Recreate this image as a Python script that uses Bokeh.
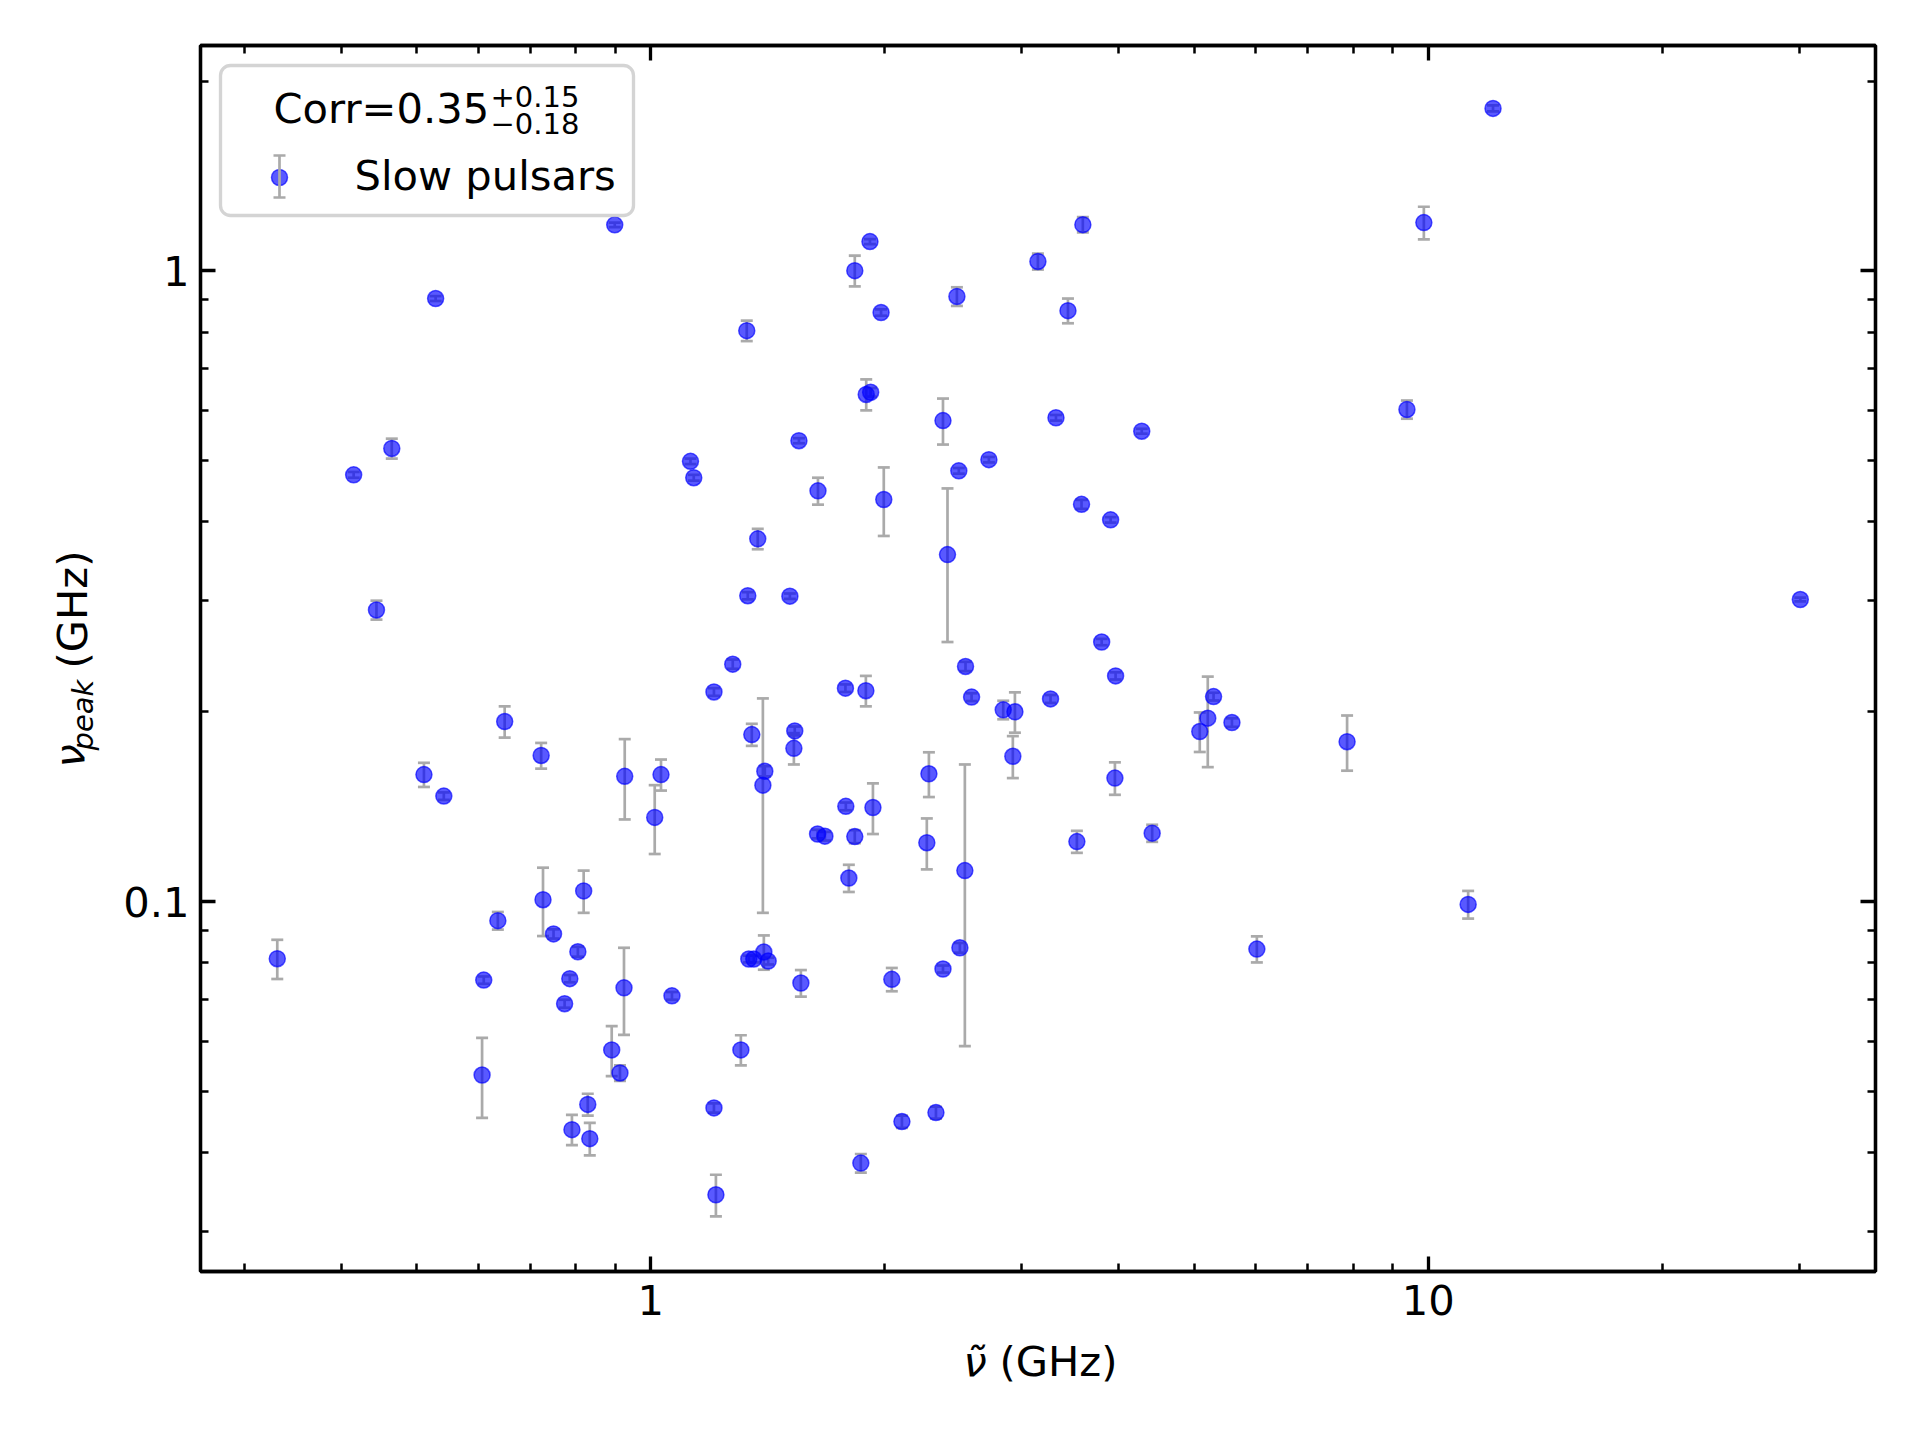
import numpy as np
from bokeh.plotting import figure
from bokeh.layouts import row, column
from bokeh.models import (Range1d, LogAxis, FixedTicker, CustomJSTickFormatter, Whisker,
                          TeeHead, ColumnDataSource, BoxAnnotation, Label)
from bokeh.embed import file_html
from bokeh.resources import INLINE

# ---- data ----
nu_tilde = [0.899, 0.529, 0.4646, 0.415, 1.125, 1.136, 0.444, 1.914, 1.830, 3.595,
            3.147, 2.476, 1.978, 3.440, 1.329, 1.893, 1.918, 2.376, 3.320, 4.280,
            1.551, 1.641, 1.994, 2.490, 2.722, 3.581, 3.903, 1.373, 2.408, 1.333,
            1.510, 3.801, 1.275, 2.540, 3.961, 1.206, 1.780, 1.891, 2.586, 3.267,
            1.349, 1.532, 1.528, 1.402, 1.394, 1.782, 1.931, 1.639, 1.675, 1.830,
            1.798, 2.279, 2.265, 2.535, 2.922, 2.840, 2.940, 3.953, 3.532, 4.414,
            1.337, 1.357, 1.398, 1.416, 1.560, 2.042, 2.376, 2.498, 1.306, 1.206,
            2.104, 2.327, 1.863, 1.213, 0.649, 0.723, 0.511, 0.542, 0.926, 1.031,
            1.012, 0.727, 0.820, 0.636, 0.750, 0.806, 0.331, 0.610, 0.787, 0.775,
            0.924, 1.065, 0.891, 0.913, 0.607, 0.830, 0.792, 0.835, 12.11, 9.867,
            9.385, 30.08, 5.294, 5.204, 5.082, 5.590, 7.861, 11.25, 6.018]
nu_peak = [1.183, 0.904, 0.523, 0.475, 0.499, 0.470, 0.290, 1.113, 1.001, 1.184,
           1.035, 0.911, 0.859, 0.865, 0.804, 0.637, 0.642, 0.579, 0.585, 0.557,
           0.538, 0.448, 0.434, 0.482, 0.502, 0.4265, 0.403, 0.376, 0.355, 0.3055,
           0.305, 0.258, 0.238, 0.236, 0.228, 0.215, 0.218, 0.216, 0.211, 0.2096,
           0.184, 0.1865, 0.175, 0.161, 0.153, 0.1416, 0.141, 0.128, 0.127, 0.1268,
           0.109, 0.1595, 0.124, 0.112, 0.170, 0.2014, 0.200, 0.157, 0.1245, 0.1284,
           0.0811, 0.0811, 0.0832, 0.0805, 0.0743, 0.0753, 0.0782, 0.0845, 0.0582, 0.0471,
           0.0448, 0.0463, 0.0385, 0.0343, 0.193, 0.1705, 0.159, 0.147, 0.158, 0.159,
           0.136, 0.1007, 0.104, 0.0933, 0.0889, 0.0833, 0.0812, 0.0751, 0.0755, 0.0689,
           0.0730, 0.0709, 0.0582, 0.0535, 0.0531, 0.0477, 0.0435, 0.0421, 1.810, 1.193,
           0.603, 0.3013, 0.2114, 0.1954, 0.1861, 0.1923, 0.1793, 0.0990, 0.0841]
nu_peak_err = [0.010, 0.008, 0.019, 0.005, 0.005, 0.005, 0.010, 0.010, 0.056, 0.033,
               0.030, 0.031, 0.010, 0.039, 0.030, 0.036, 0.010, 0.0485, 0.006, 0.005,
               0.005, 0.022, 0.054, 0.005, 0.005, 0.007, 0.004, 0.014, 0.097, 0.004,
               0.003, 0.003, 0.004, 0.004, 0.003, 0.003, 0.003, 0.012, 0.003, 0.003,
               0.0074, 0.003, 0.010, 0.003, 0.057, 0.002, 0.013, 0.002, 0.002, 0.003,
               0.0054, 0.013, 0.0115, 0.053, 0.013, 0.0068, 0.0147, 0.0093, 0.005, 0.004,
               0.001, 0.001, 0.0052, 0.001, 0.0036, 0.0032, 0.001, 0.0015, 0.0032, 0.0008,
               0.001, 0.001, 0.0013, 0.0026, 0.011, 0.008, 0.007, 0.002, 0.023, 0.009,
               0.017, 0.0125, 0.008, 0.003, 0.0015, 0.0015, 0.0058, 0.001, 0.001, 0.001,
               0.0115, 0.001, 0.0053, 0.0015, 0.0077, 0.0019, 0.0024, 0.0025, 0.02, 0.071,
               0.020, 0.002, 0.003, 0.032, 0.0134, 0.003, 0.018, 0.005, 0.004]

x_major = [1, 10]
x_minor = [0.3, 0.4, 0.5, 0.6, 0.7, 0.8, 0.9, 2, 3, 4, 5, 6, 7, 8, 9, 20, 30]
y_major = [0.1, 1]
y_minor = [0.03, 0.04, 0.05, 0.06, 0.07, 0.08, 0.09,
           0.2, 0.3, 0.4, 0.5, 0.6, 0.7, 0.8, 0.9, 2]

corr_text = "Corr=0.35"
corr_plus = "+0.15"
corr_minus = "\u22120.18"
series_name = "Slow pulsars"

# ---- layout geometry ----
W, H = 1920, 1440
LW = 120            # width of the strip holding the y label
MH = 1335           # height of the main figure
MW = W - LW
FL, FR, FT, FB = 80, 45, 45, MH - 1271
FW, FH = MW - FL - FR, MH - FT - FB
XR = (0.2637, 37.58)
YR = (0.02592, 2.277)
FONT = "DejaVu Sans"
FS = "41.67px"
BIG, SMALL = 41.67, 29.0
SHIFT = 0.36        # measured baseline shift of Bokeh labels, in em
MSIZE = 16

x = np.array(nu_tilde)
y = np.array(nu_peak)
e = np.array(nu_peak_err)
src = ColumnDataSource(dict(x=x, y=y, lo=y - e, hi=y + e))

p = figure(width=MW, height=MH, x_axis_type="log", y_axis_type="log",
           x_range=Range1d(*XR), y_range=Range1d(*YR),
           output_backend="svg", toolbar_location=None,
           min_border_left=FL, min_border_right=FR,
           min_border_top=FT, min_border_bottom=FB)
p.grid.visible = False
p.outline_line_color = "black"
p.outline_line_width = 3.3
p.background_fill_color = "white"
p.border_fill_color = "white"


def style_axis(ax, major, minor, labels, standoff):
    ax.ticker = FixedTicker(ticks=major, minor_ticks=minor)
    if labels:
        ax.formatter = CustomJSTickFormatter(code="return tick.toString();")
        ax.major_label_text_font_size = FS
    else:
        ax.formatter = CustomJSTickFormatter(code="return '';")
        ax.major_label_text_font_size = "0px"
    ax.major_label_text_font = FONT
    ax.major_label_text_color = "black"
    ax.major_label_standoff = standoff
    ax.major_tick_in = 15
    ax.major_tick_out = 0
    ax.minor_tick_in = 8
    ax.minor_tick_out = 0
    ax.major_tick_line_width = 3.3
    ax.minor_tick_line_width = 2.5
    ax.major_tick_line_color = "black"
    ax.minor_tick_line_color = "black"
    ax.axis_line_color = "black"
    ax.axis_line_width = 3.3
    ax.axis_label = None


style_axis(p.xaxis[0], x_major, x_minor, True, 13)
style_axis(p.yaxis[0], y_major, y_minor, True, 11)
top_ax = LogAxis()
right_ax = LogAxis()
p.add_layout(top_ax, "above")
p.add_layout(right_ax, "right")
style_axis(top_ax, x_major, x_minor, False, 0)
style_axis(right_ax, y_major, y_minor, False, 0)

# ---- error bars and points ----
GRAY = "#aaaaaa"
wh = Whisker(source=src, base="x", lower="lo", upper="hi", dimension="height",
             line_color=GRAY, line_width=2.7,
             upper_head=TeeHead(size=12, line_color=GRAY, line_width=2.7),
             lower_head=TeeHead(size=12, line_color=GRAY, line_width=2.7))
wh.level = "underlay"
p.add_layout(wh)

p.scatter("x", "y", source=src, marker="circle", size=MSIZE,
          fill_color="blue", fill_alpha=0.65,
          line_color="blue", line_alpha=0.65, line_width=1.5)

# ---- legend (built by hand) ----
lx0, lx1 = np.log10(XR[0]), np.log10(XR[1])
ly0, ly1 = np.log10(YR[0]), np.log10(YR[1])


def cx(px):
    return 10 ** (lx0 + (px - LW - FL) / FW * (lx1 - lx0))


def cy(py):
    return 10 ** (ly1 - (py - FT) / FH * (ly1 - ly0))


box = BoxAnnotation(left=220 - LW, right=633 - LW, top=65, bottom=215,
                    left_units="canvas", right_units="canvas",
                    top_units="canvas", bottom_units="canvas",
                    fill_color="white", fill_alpha=0.8,
                    line_color="#cccccc", line_alpha=0.85, line_width=3.3,
                    border_radius=10)
p.add_layout(box)

leg_src = ColumnDataSource(dict(x=[cx(279)], y=[cy(177)], lo=[cy(197)], hi=[cy(155)]))
lwh = Whisker(source=leg_src, base="x", lower="lo", upper="hi", dimension="height",
              line_color=GRAY, line_width=2.7,
              upper_head=TeeHead(size=12, line_color=GRAY, line_width=2.7),
              lower_head=TeeHead(size=12, line_color=GRAY, line_width=2.7))
lwh.level = "overlay"
p.add_layout(lwh)
lr = p.scatter("x", "y", source=leg_src, marker="circle", size=MSIZE,
               fill_color="blue", fill_alpha=0.65,
               line_color="blue", line_alpha=0.65, line_width=1.5)
lr.level = "overlay"


def lab(fig, text, x0, y0, size=BIG, style="normal", rotated=False):
    sh = SHIFT * size
    if rotated:
        xx, yy, ang = x0 - sh, y0, np.pi / 2
    else:
        xx, yy, ang = x0, y0 - sh, 0.0
    fig.add_layout(Label(x=xx, y=yy, x_units="canvas", y_units="canvas", text=text,
                         text_font=FONT, text_font_size=f"{size}px",
                         text_font_style=style, text_color="black",
                         text_align="left", text_baseline="alphabetic", angle=ang))


lab(p, corr_text, 273 - LW, 123)
lab(p, corr_plus, 490 - LW, 106.5, size=SMALL)
lab(p, corr_minus, 490 - LW, 133.5, size=SMALL)
lab(p, series_name, 354 - LW, 190)


def strip(width, height):
    f = figure(width=width, height=height, output_backend="svg", toolbar_location=None,
               x_axis_location=None, y_axis_location=None,
               x_range=Range1d(0, 1), y_range=Range1d(0, 1),
               min_border=0, min_border_left=0, min_border_right=0,
               min_border_top=0, min_border_bottom=0)
    f.grid.visible = False
    f.outline_line_color = None
    f.background_fill_color = "white"
    f.border_fill_color = "white"
    return f


# y label strip (left)
pl = strip(LW, MH)
lab(pl, "\u03bd", 84, 767, style="italic", rotated=True)
lab(pl, "peak", 93, 750, size=SMALL, style="italic", rotated=True)
lab(pl, "(GHz)", 87, 668, rotated=True)

# x label strip (bottom)
BH = H - MH
pb = strip(W, BH)
lab(pb, "\u03bd\u0303", 963, 1376 - MH, style="italic")
lab(pb, "(GHz)", 999, 1376 - MH)

layout = column(row(pl, p, spacing=0), pb, spacing=0)
open("out.html", "w").write(file_html(layout, INLINE))
